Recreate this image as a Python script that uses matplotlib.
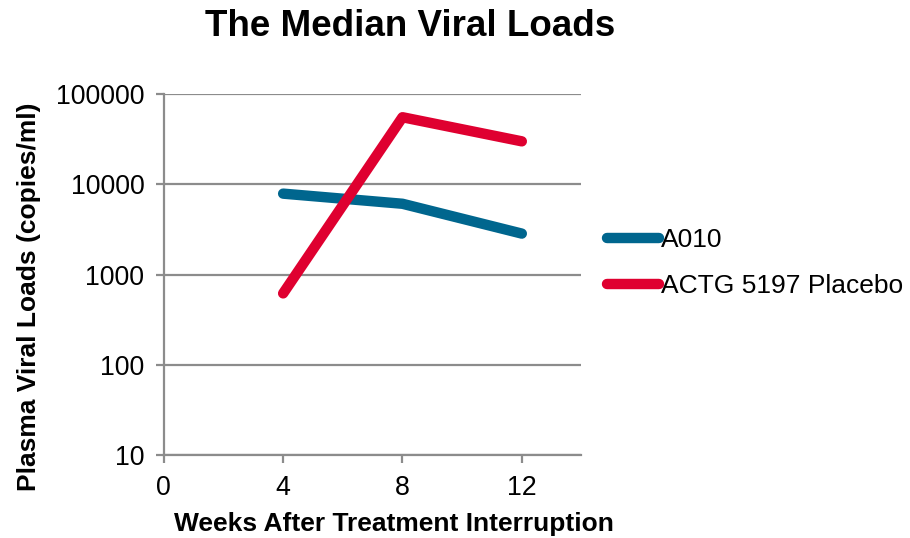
import matplotlib
matplotlib.use("Agg")
import matplotlib.pyplot as plt
import matplotlib.ticker as mticker

weeks = [4, 8, 12]
a010 = [7900, 6100, 2850]
actg_placebo = [620, 55500, 30000]
series_names = ["A010", "ACTG 5197 Placebo"]
y_ticks = [10, 100, 1000, 10000, 100000]
x_ticks = [0, 4, 8, 12]

BLUE = "#00668E"
RED = "#DF0030"
GRID = "#8C8C8C"

plt.rcParams["font.family"] = ["Liberation Sans", "DejaVu Sans"]

fig = plt.figure(figsize=(9.1, 5.38), dpi=100)
ax = fig.add_axes([0.180, 0.154, 0.459, 0.671])

ax.plot(weeks, a010, color=BLUE, linewidth=7.5, solid_capstyle="round",
        solid_joinstyle="round", label=series_names[0], zorder=3)
ax.plot(weeks, actg_placebo, color=RED, linewidth=7.5, solid_capstyle="round",
        solid_joinstyle="round", label=series_names[1], zorder=3)

ax.set_yscale("log")
ax.set_ylim(10, 100000)
ax.set_yticks(y_ticks)
ax.yaxis.set_major_formatter(mticker.FuncFormatter(lambda v, p: f"{int(v)}"))
ax.yaxis.set_minor_locator(mticker.NullLocator())
ax.set_xlim(0, 14)
ax.set_xticks(x_ticks)

ax.grid(axis="y", color=GRID, linewidth=1.6, zorder=0)
for s in ["top", "right"]:
    ax.spines[s].set_visible(False)
for s in ["left", "bottom"]:
    ax.spines[s].set_color(GRID)
    ax.spines[s].set_linewidth(1.6)
ax.tick_params(axis="both", colors=GRID, width=1.6, length=6,
               labelsize=19.3, labelcolor="black", direction="out")
ax.tick_params(axis="y", pad=8)
ax.tick_params(axis="x", pad=8)

ax.set_xlabel("Weeks After Treatment Interruption", fontsize=19,
              fontweight="bold", va="center")
ax.xaxis.set_label_coords(0.552, -0.19)
ax.set_ylabel("Plasma Viral Loads (copies/ml)", fontsize=19,
              fontweight="bold", va="center")
ax.yaxis.set_label_coords(-0.322, 0.44)
fig.text(0.451, 0.95, "The Median Viral Loads", fontsize=26.5,
         fontweight="bold", ha="center", va="center")

fig.legend(loc="center left", bbox_to_anchor=(0.655, 0.511), frameon=False,
           fontsize=19, handlelength=2.0, handletextpad=0.05,
           labelspacing=0.85, borderaxespad=0)

fig.savefig("out.png", dpi=100, facecolor="white")
